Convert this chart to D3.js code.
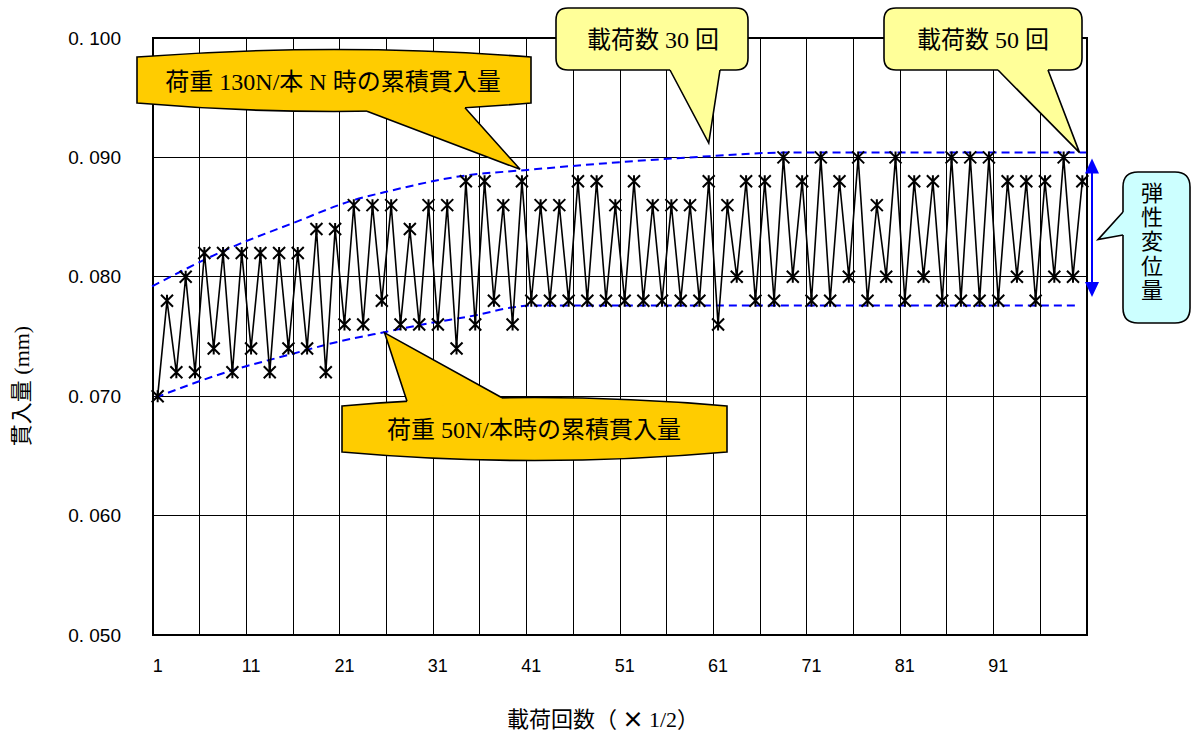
<!DOCTYPE html>
<html>
<head>
<meta charset="utf-8">
<script src="https://cdn.jsdelivr.net/npm/d3@7"></script>
<style>
  body { margin: 0; background: #fff; }
  svg { display: block; }
</style>
</head>
<body>
<svg id="chart" width="1191" height="735"></svg>
<script>
// Load count (x 1/2) and cumulative penetration (mm)
const loadCounts = d3.range(1, 101);
const penetration = [
  0.070, 0.078, 0.072, 0.080, 0.072, 0.082, 0.074, 0.082, 0.072, 0.082,
  0.074, 0.082, 0.072, 0.082, 0.074, 0.082, 0.074, 0.084, 0.072, 0.084,
  0.076, 0.086, 0.076, 0.086, 0.078, 0.086, 0.076, 0.084, 0.076, 0.086,
  0.076, 0.086, 0.074, 0.088, 0.076, 0.088, 0.078, 0.086, 0.076, 0.088,
  0.078, 0.086, 0.078, 0.086, 0.078, 0.088, 0.078, 0.088, 0.078, 0.086,
  0.078, 0.088, 0.078, 0.086, 0.078, 0.086, 0.078, 0.086, 0.078, 0.088,
  0.076, 0.086, 0.080, 0.088, 0.078, 0.088, 0.078, 0.090, 0.080, 0.088,
  0.078, 0.090, 0.078, 0.088, 0.080, 0.090, 0.078, 0.086, 0.080, 0.090,
  0.078, 0.088, 0.080, 0.088, 0.078, 0.090, 0.078, 0.090, 0.078, 0.090,
  0.078, 0.088, 0.080, 0.088, 0.078, 0.088, 0.080, 0.090, 0.080, 0.088
];
const yTicks = [0.05, 0.06, 0.07, 0.08, 0.09, 0.10];
const xTickLabels = [1, 11, 21, 31, 41, 51, 61, 71, 81, 91];
const gridEvery = 5;

// Envelope curves: [load count, mm]
const upperEnvelope = [
  [0.4, 0.0792], [8.7, 0.0824], [15.5, 0.0845], [21.9, 0.0864], [25.9, 0.0872],
  [34.1, 0.0885], [39.8, 0.0889], [50.5, 0.0896], [60.1, 0.0901], [68, 0.0904],
  [100.4, 0.0904]
];
const lowerEnvelope = [
  [0.8, 0.0699], [8.7, 0.0721], [15.2, 0.0735], [20, 0.0745], [25.5, 0.0754],
  [30, 0.0761], [35.2, 0.0768], [38.7, 0.0774], [41, 0.0776], [99.2, 0.0776]
];
// Elastic displacement range marked on the right
const elasticRange = [0.0899, 0.0783];

// Callout anchor points: [load count, mm]
const heavyLoadTip = [39.8, 0.0890];
const lightLoadTip = [25.3, 0.0753];
const cycle30Tip = [60, 0.0912];
const cycle50Tip = [99.7, 0.0904];

const svg = d3.select("#chart");
const plot = { left: 153, right: 1087, top: 38, bottom: 635 };

const x = d3.scaleBand().domain(loadCounts).range([plot.left, plot.right]);
const xc = d3.scaleLinear().domain([0.5, loadCounts.length + 0.5]).range([plot.left, plot.right]);
const y = d3.scaleLinear().domain([0.05, 0.10]).range([plot.bottom, plot.top]);
const cx = d => x(d) + x.bandwidth() / 2;

// Grid lines
const grid = svg.append("g").attr("stroke", "#000").attr("stroke-width", 1).attr("shape-rendering", "crispEdges");
grid.selectAll("line.h").data(yTicks).join("line").attr("class", "h")
  .attr("x1", plot.left).attr("x2", plot.right)
  .attr("y1", d => y(d)).attr("y2", d => y(d));
grid.selectAll("line.v").data(d3.range(gridEvery, loadCounts.length, gridEvery)).join("line").attr("class", "v")
  .attr("x1", d => xc(d + 0.5)).attr("x2", d => xc(d + 0.5))
  .attr("y1", plot.top).attr("y2", plot.bottom);

// Plot frame
svg.append("rect")
  .attr("x", plot.left).attr("y", plot.top)
  .attr("width", plot.right - plot.left).attr("height", plot.bottom - plot.top)
  .attr("fill", "none").attr("stroke", "#000").attr("stroke-width", 2);

// Axes
const yAxis = svg.append("g").attr("transform", `translate(${plot.left},0)`)
  .call(d3.axisLeft(y).tickValues(yTicks).tickSize(0).tickPadding(32)
    .tickFormat(d => d.toFixed(3).replace(".", ". ")));
yAxis.select(".domain").remove();
yAxis.selectAll("text").attr("font-family", "'Liberation Sans', Arial, sans-serif")
  .attr("font-size", 19).attr("fill", "#000");

const xAxis = svg.append("g").attr("transform", `translate(0,${plot.bottom})`)
  .call(d3.axisBottom(x).tickValues(xTickLabels).tickSize(0).tickPadding(24));
xAxis.select(".domain").remove();
xAxis.selectAll("text").attr("font-family", "'Liberation Sans', Arial, sans-serif")
  .attr("font-size", 18).attr("fill", "#000");

// Axis titles
svg.append("text")
  .attr("transform", `translate(29,386) rotate(-90)`)
  .attr("text-anchor", "middle")
  .attr("font-family", "'Liberation Serif', 'Noto Sans CJK JP', serif")
  .attr("font-size", 22).attr("fill", "#000")
  .text("貫入量 (mm)");

const xTitle = svg.append("text")
  .attr("x", 603).attr("y", 727)
  .attr("text-anchor", "middle")
  .attr("font-family", "'Liberation Serif', 'Noto Sans CJK JP', serif")
  .attr("font-size", 22).attr("fill", "#000");
xTitle.append("tspan").text("載荷回数（");
xTitle.append("tspan").attr("font-family", "'Noto Sans CJK JP', sans-serif").attr("font-weight", "bold").text(" × ");
xTitle.append("tspan").text("1/2）");

// Envelope curves
const envLine = d3.line().x(d => xc(d[0])).y(d => y(d[1])).curve(d3.curveMonotoneX);
svg.selectAll("path.env").data([upperEnvelope, lowerEnvelope]).join("path").attr("class", "env")
  .attr("d", envLine).attr("fill", "none")
  .attr("stroke", "#0000ff").attr("stroke-width", 2).attr("stroke-dasharray", "8,5");

// Data series
const series = loadCounts.map((c, i) => [c, penetration[i]]);
svg.append("path")
  .datum(series)
  .attr("d", d3.line().x(d => cx(d[0])).y(d => y(d[1])))
  .attr("fill", "none").attr("stroke", "#000").attr("stroke-width", 1.6);

const star = "M-6,-6L6,6M-6,6L6,-6M0,-6L0,6";
svg.append("g").selectAll("path").data(series).join("path")
  .attr("transform", d => `translate(${cx(d[0])},${y(d[1])})`)
  .attr("d", star).attr("fill", "none").attr("stroke", "#000").attr("stroke-width", 2);

// Elastic displacement double arrow
const arrowX = plot.right + 5;
const arrowG = svg.append("g").attr("fill", "#0000ff").attr("stroke", "#0000ff");
const aTop = y(elasticRange[0]), aBot = y(elasticRange[1]);
arrowG.append("line").attr("x1", arrowX).attr("x2", arrowX)
  .attr("y1", aTop + 10).attr("y2", aBot - 10).attr("stroke-width", 2);
arrowG.append("path").attr("stroke", "none")
  .attr("d", `M${arrowX},${aTop}L${arrowX - 7},${aTop + 15}L${arrowX + 7},${aTop + 15}Z`);
arrowG.append("path").attr("stroke", "none")
  .attr("d", `M${arrowX},${aBot}L${arrowX - 7},${aBot - 15}L${arrowX + 7},${aBot - 15}Z`);

// ---- Callouts ----
const yellow = "#ffcc00", paleYellow = "#ffff99", paleCyan = "#ccffff";

function drawCallout(bodyD, base0, base1, inward, tip, fill) {
  const g = svg.append("g");
  g.append("path").attr("d", bodyD).attr("fill", fill).attr("stroke", "#000").attr("stroke-width", 1.6);
  const k = 6;
  const poly = [
    [base0[0] + inward[0] * k, base0[1] + inward[1] * k], base0, tip, base1,
    [base1[0] + inward[0] * k, base1[1] + inward[1] * k]
  ];
  g.append("path").attr("d", "M" + poly.map(p => p.join(",")).join("L") + "Z").attr("fill", fill);
  g.append("path").attr("d", `M${base0[0]},${base0[1]}L${tip[0]},${tip[1]}L${base1[0]},${base1[1]}`)
    .attr("fill", "none").attr("stroke", "#000").attr("stroke-width", 1.6).attr("stroke-linejoin", "miter");
  return g;
}

// Barrel-shaped body (curved top and bottom edges)
function barrel(x0, x1, yt, ytm, yb, ybm) {
  const mx = (x0 + x1) / 2;
  const ct = 2 * ytm - yt, cb = 2 * ybm - yb;
  const d = `M${x0},${yt}Q${mx},${ct} ${x1},${yt}L${x1},${yb}Q${mx},${cb} ${x0},${yb}Z`;
  const at = (px, ye, c) => {
    const t = (px - x0) / (x1 - x0);
    return (1 - t) * (1 - t) * ye + 2 * t * (1 - t) * c + t * t * ye;
  };
  return { d, top: px => at(px, yt, ct), bottom: px => at(px, yb, cb) };
}

function roundRect(x0, y0, x1, y1, r) {
  return `M${x0 + r},${y0}H${x1 - r}Q${x1},${y0} ${x1},${y0 + r}V${y1 - r}Q${x1},${y1} ${x1 - r},${y1}` +
    `H${x0 + r}Q${x0},${y1} ${x0},${y1 - r}V${y0 + r}Q${x0},${y0} ${x0 + r},${y0}Z`;
}

const calloutFont = "'Liberation Serif', 'Noto Sans CJK JP', serif";

// 130N load callout
{
  const b = barrel(137, 531, 57, 49.5, 103, 111.5);
  const g = drawCallout(b.d, [367, b.bottom(367)], [465, b.bottom(465)], [0, -1],
    [xc(heavyLoadTip[0]), y(heavyLoadTip[1])], yellow);
  g.append("text").attr("x", 333).attr("y", 90).attr("text-anchor", "middle")
    .attr("font-family", calloutFont).attr("font-size", 24).attr("fill", "#000")
    .text("荷重 130N/本 N 時の累積貫入量");
}

// 50N load callout
{
  const b = barrel(342, 727, 406, 397.5, 452, 460.5);
  const g = drawCallout(b.d, [407, b.top(407)], [502, b.top(502)], [0, 1],
    [xc(lightLoadTip[0]), y(lightLoadTip[1])], yellow);
  g.append("text").attr("x", 534).attr("y", 438).attr("text-anchor", "middle")
    .attr("font-family", calloutFont).attr("font-size", 24).attr("fill", "#000")
    .text("荷重 50N/本時の累積貫入量");
}

// 30-cycle callout
{
  const g = drawCallout(roundRect(556, 8, 748, 70, 12), [670, 70], [720, 70], [0, -1],
    [xc(cycle30Tip[0]), y(cycle30Tip[1])], paleYellow);
  g.append("text").attr("x", 653).attr("y", 48).attr("text-anchor", "middle")
    .attr("font-family", calloutFont).attr("font-size", 24).attr("fill", "#000")
    .text("載荷数 30 回");
}

// 50-cycle callout
{
  const g = drawCallout(roundRect(884, 8, 1082, 70, 12), [998, 70], [1048, 70], [0, -1],
    [xc(cycle50Tip[0]), y(cycle50Tip[1])], paleYellow);
  g.append("text").attr("x", 983).attr("y", 48).attr("text-anchor", "middle")
    .attr("font-family", calloutFont).attr("font-size", 24).attr("fill", "#000")
    .text("載荷数 50 回");
}

// Elastic displacement callout (vertical text)
{
  const g = drawCallout(roundRect(1123, 172, 1190, 323, 15), [1123, 212], [1123, 235], [1, 0],
    [arrowX + 6, y(elasticRange[0]) + 81], paleCyan);
  g.append("text")
    .attr("x", 1152).attr("y", 242)
    .attr("text-anchor", "middle")
    .style("writing-mode", "vertical-rl")
    .style("text-orientation", "upright")
    .attr("letter-spacing", 2.3)
    .attr("font-family", "'Noto Sans CJK JP', sans-serif").attr("font-size", 22).attr("fill", "#000")
    .text("弾性変位量");
}
</script>
</body>
</html>
